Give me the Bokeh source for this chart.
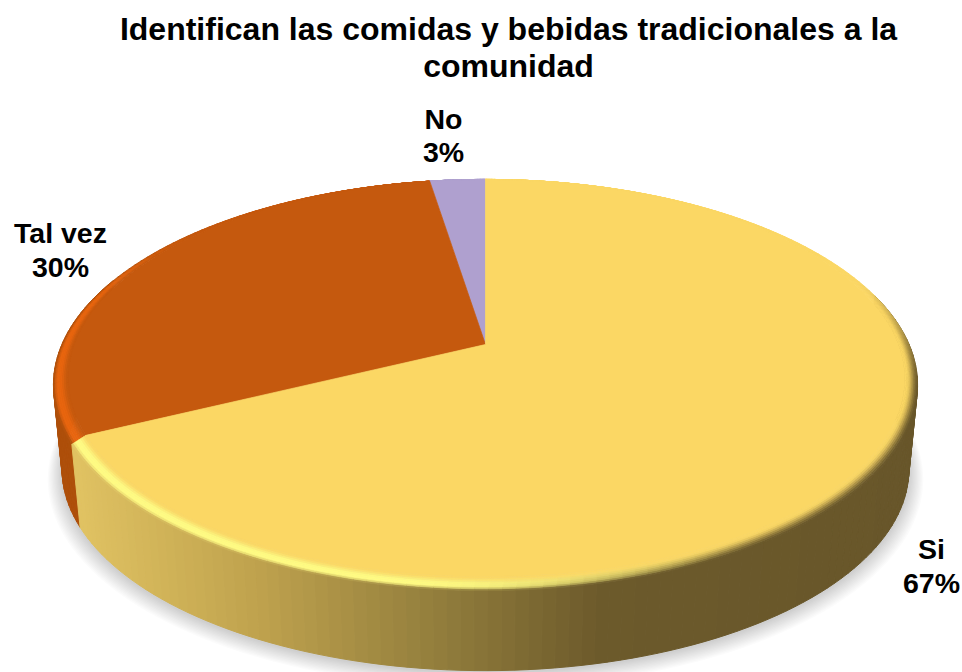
import numpy as np
from bokeh.plotting import figure
from bokeh.models import Range1d
from bokeh.core.properties import value
from bokeh.embed import file_html
from bokeh.resources import INLINE

# --- data ---
categories = ["Si", "Tal vez", "No"]
shares = [67.4, 30.0, 2.6]
title_lines = ["Identifican las comidas y bebidas tradicionales a la", "comunidad"]

# --- style ---
FONT = value("Liberation Sans")
flat_cols = ["#FBD764", "#C5590E", "#AFA0CF"]
peak_cols = ["#FFFB82", "#E8650F", "#AFA0CF"]
label_pos = [(931, 548, 582), (60, 232, 266), (443, 118, 151)]

CX, CY = 485.0, 344.0
R, B, PERSP = 423.6, 197.6, 0.197
DEPTH, BOTTOM_SCALE = 85.0, 0.98
BEVEL_A, BEVEL_C, BEVEL_X = 0.034, 5.6, 3.0


def hex2rgb(h):
    return np.array([int(h[i:i + 2], 16) for i in (1, 3, 5)], dtype=float)


def rgb2hex(c):
    c = np.clip(np.round(c), 0, 255).astype(int)
    return "#%02x%02x%02x" % tuple(c)


def mix(a, b, f):
    return a + (b - a) * f


def smooth(e0, e1, x):
    f = np.clip((x - e0) / (e1 - e0), 0, 1)
    return f * f * (3 - 2 * f)


def ring(theta, t=0.0):
    """Screen point of the pie rim; theta clockwise from top (degrees)."""
    th = np.radians(theta)
    u, v = np.sin(th), -np.cos(th)
    k = 1 / (1 - PERSP * v)
    s = 1 - BEVEL_A * t
    return (CX + R * u * k * s + BEVEL_X * t * np.maximum(0, (1 + v) / 2) * (u > 0),
            CY + B * v * k * s - BEVEL_C * t)


def bottom(theta):
    x, y = ring(theta)
    return CX + (x - CX) * BOTTOM_SCALE, CY + (y - CY) * BOTTOM_SCALE + DEPTH


wall_x = [75, 250, 450, 600, 917]
wall_stops = [hex2rgb(c) for c in ("#E0C262", "#C0A34E", "#8F7B3B", "#6C5A2B", "#68562A")]


def wall_color(i, x):
    if i == 0:
        return np.array([np.interp(x, wall_x, [s[j] for s in wall_stops]) for j in range(3)])
    return hex2rgb("#AE4F0A")


total = sum(shares)
edges = np.cumsum([0] + shares) / total * 360.0

p = figure(width=962, height=672, output_backend="svg", toolbar_location=None,
           x_range=Range1d(0, 962), y_range=Range1d(672, 0),
           min_border=0, outline_line_color=None, background_fill_color="white")
p.axis.visible = False
p.grid.visible = False
p.xaxis.visible = False
p.yaxis.visible = False

# soft shadow under the disc
all_th = np.arange(0, 360, 2.0)
for s, dy in zip(np.linspace(1.034, 1.002, 12), np.linspace(6, 2, 12)):
    bx, by = bottom(all_th)
    p.patch(CX + (bx - CX) * s, CY + (by - CY) * s + dy, fill_color="#000000",
            fill_alpha=0.014, line_color=None)

# side wall, one thin strip per angle step
for i in (1, 0):
    a0, a1 = edges[i], edges[i + 1]
    lo, hi = max(a0, 75.0), min(a1, 290.0)
    if hi <= lo:
        continue
    th = np.linspace(lo, hi, int((hi - lo) / 1.5) + 2)
    xs, ys, cols = [], [], []
    for t0, t1 in zip(th[:-1], th[1:]):
        x0, y0 = ring(t0)
        x1, y1 = ring(t1)
        x2, y2 = bottom(t1)
        x3, y3 = bottom(t0)
        xs.append([x0, x1, x2, x3])
        ys.append([y0, y1, y2, y3])
        cols.append(rgb2hex(wall_color(i, (x0 + x1) / 2)))
    p.patches(xs, ys, fill_color=cols, line_color=cols, line_width=1)

# bevel and flat top of each slice
for i in (2, 1, 0):
    a0, a1 = edges[i], edges[i + 1]
    th = np.linspace(a0, a1, max(int((a1 - a0) / 1.5) + 2, 3))
    tt = np.linspace(0, 1, 9)
    flat, peak = hex2rgb(flat_cols[i]), hex2rgb(peak_cols[i])
    xs, ys, cols = [], [], []
    for t0, t1 in zip(th[:-1], th[1:]):
        m = (t0 + t1) / 2
        lit = smooth(145, 190, m) * (1 - smooth(280, 315, m))
        edge_dark = smooth(68, 105, m) if m < 180 else 1 - smooth(285, 320, m)
        base = mix(flat, wall_color(i, ring(m)[0]), edge_dark)
        if i == 2:
            base = flat
        for r0, r1 in zip(tt[:-1], tt[1:]):
            q = (r0 + r1) / 2
            shade = mix(base, flat, smooth(0.0, 0.9, q))
            hi_amount = lit * smooth(0.0, 0.3, q) * (1 - smooth(0.5, 1.0, q))
            cc = mix(shade, peak, hi_amount)
            xa, ya = ring(t0, r0)
            xb, yb = ring(t1, r0)
            xc, yc = ring(t1, r1)
            xd, yd = ring(t0, r1)
            xs.append([xa, xb, xc, xd])
            ys.append([ya, yb, yc, yd])
            cols.append(rgb2hex(cc))
    p.patches(xs, ys, fill_color=cols, line_color=cols, line_width=0.7)
    fx, fy = ring(th, 1.0)
    p.patch(np.r_[CX, fx], np.r_[CY, fy], fill_color=flat_cols[i], line_color=flat_cols[i],
            line_width=0.7)

# title
for line, y in zip(title_lines, (39, 76)):
    p.text([508], [y - 11], text=[line], text_font=FONT, text_font_style="bold",
           text_font_size="32px", text_color="black", text_align="center",
           text_baseline="alphabetic")

# data labels
for cat, share, (lx, y0, y1) in zip(categories, shares, label_pos):
    p.text([lx], [y0], text=[cat], text_font=FONT, text_font_style="bold",
           text_font_size="28.5px", text_color="black", text_align="center",
           text_baseline="alphabetic")
    p.text([lx], [y1], text=[f"{round(share / total * 100)}%"], text_font=FONT,
           text_font_style="bold", text_font_size="28.5px", text_color="black",
           text_align="center", text_baseline="alphabetic")

open("out.html", "w").write(file_html(p, INLINE))
